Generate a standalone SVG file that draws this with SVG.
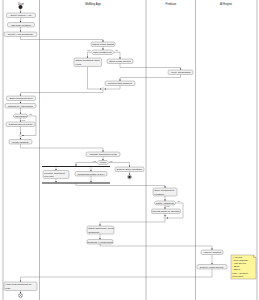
<svg xmlns="http://www.w3.org/2000/svg" width="259" height="300" viewBox="0 0 259 300">
<style>
.lane{stroke:#aaa;stroke-width:0.8;fill:none}
.hd{font-family:"Liberation Sans",Arial,sans-serif;font-size:2.8px;fill:#222;text-anchor:middle}
.box{fill:#F1F1F1;stroke:#555;stroke-width:0.3}
.t{font-family:"Liberation Sans",Arial,sans-serif;font-size:2.5px;fill:#222;text-anchor:middle}
.tl{font-family:"Liberation Sans",Arial,sans-serif;font-size:2.5px;fill:#222}
.lb{font-family:"Liberation Sans",Arial,sans-serif;font-size:2.2px;fill:#222}
.c{fill:none;stroke:#444;stroke-width:0.3;marker-end:url(#ah)}
.bar{fill:#222}
.note{fill:#FFF59A;stroke:#555;stroke-width:0.3}
</style>
<defs>
<marker id="ah" viewBox="0 0 4 4" refX="4" refY="2" markerWidth="1.6" markerHeight="1.6" markerUnits="userSpaceOnUse" orient="auto"><path d="M0 0 L4 2 L0 4 Z" fill="#333"/></marker>
</defs>
<g id="lanes">
<line class="lane" x1="3" y1="0" x2="3" y2="300"/>
<line class="lane" x1="39.5" y1="0" x2="39.5" y2="300"/>
<line class="lane" x1="146" y1="0" x2="146" y2="300"/>
<line class="lane" x1="195.5" y1="0" x2="195.5" y2="300"/>
<line class="lane" x1="257" y1="0" x2="257" y2="300"/>
<text class="hd" x="21" y="4.5">User</text>
<text class="hd" x="93" y="4.5">MeMory App</text>
<text class="hd" x="171" y="4.5">Firebase</text>
<text class="hd" x="226" y="4.5">AI Engine</text>
</g>
<g id="connectors">
<path class="c" d="M20.5 9 V13"/>
<path class="c" d="M20.5 17.5 V22.5"/>
<path class="c" d="M20.5 27 V32"/>
<path class="c" d="M20.5 36.5 V39.5 H103 V42"/>
<path class="c" d="M103 46.5 V50"/>
<path class="c" d="M91 52.25 H87.5 V58"/>
<path class="c" d="M114 52.25 H120 V59"/>
<path class="c" d="M120 63.5 V67.5 H180.5 V70"/>
<path class="c" d="M180.5 74.5 V77.5 H120 V81"/>
<path class="c" d="M87.5 66.5 V89 H101.5"/>
<path class="c" d="M120 85.5 V89 H104.5"/>
<path class="c" d="M103 90.5 V92.5 H20.5 V96"/>
<path class="c" d="M20.5 100.5 V103.5"/>
<path class="c" d="M20.5 108 V114"/>
<path class="c" d="M20.5 118 V122"/>
<path class="c" d="M28 116 H36 V135.5 H22"/>
<path class="c" d="M20.5 126.5 V134"/>
<path class="c" d="M20.5 137 V139.5"/>
<path class="c" d="M20.5 144 V148 H103 V152"/>
<path class="c" d="M103 156.5 V160.5"/>
<path class="c" d="M97 162.5 H76 V166"/>
<path class="c" d="M109 162.5 H129.5 V167"/>
<path class="c" d="M56 167 V170.5"/>
<path class="c" d="M91 167 V171.5"/>
<path class="c" d="M56 178.5 V182.5"/>
<path class="c" d="M91 176 V182.5"/>
<path class="c" d="M129.5 171.5 V175"/>
<path class="c" d="M76 183.5 V185.5 H165 V188"/>
<path class="c" d="M165 196 V201"/>
<path class="c" d="M165 205 V209"/>
<path class="c" d="M176 203 H183 V218 H166.5"/>
<path class="c" d="M165 213.5 V216.5"/>
<path class="c" d="M165 219.5 V222 H100 V226"/>
<path class="c" d="M100 234 V239.5"/>
<path class="c" d="M100 244 V246 H212 V250"/>
<path class="c" d="M212 254.5 V264.5"/>
<path class="c" d="M212 269 V277 H20.5 V282"/>
<path class="c" d="M20.5 290.5 V293.5"/>
</g>
<g id="start"><circle cx="20.5" cy="7" r="2" fill="#222"/></g>
<g id="n1"><rect class="box" x="6.5" y="13" width="29" height="4.5" rx="1.5"/><text class="t" x="21" y="16.1">Open MeMory App</text></g>
<g id="n2"><rect class="box" x="7.5" y="22.5" width="27" height="4.5" rx="1.5"/><text class="t" x="21" y="25.6">Tap Map Location</text></g>
<g id="n3"><rect class="box" x="4" y="32" width="33" height="4.5" rx="1.5"/><text class="t" x="20.5" y="35.1">Select "Add Comment"</text></g>
<g id="n4"><rect class="box" x="91" y="42" width="24" height="4.5" rx="1.5"/><text class="t" x="103" y="45.1">Check Login Status</text></g>
<g id="d1"><path class="box" d="M91 52.25 L93 50 H112 L114 52.25 L112 54.5 H93 Z"/><text class="t" x="102.5" y="53.1">User Logged In?</text><text class="lb" x="87" y="51.2">yes</text><text class="lb" x="115.5" y="51.2">no</text></g>
<g id="n5"><rect class="box" x="74" y="58" width="27.5" height="8.5" rx="1.5"/><text class="tl" x="75.5" y="61.2">Show Comment Input</text><text class="tl" x="75.5" y="64.7">Form</text></g>
<g id="n6"><rect class="box" x="107" y="59" width="26" height="4.5" rx="1.5"/><text class="t" x="120" y="62.1">Show Login Screen</text></g>
<g id="n7"><rect class="box" x="168" y="70" width="25" height="4.5" rx="1.5"/><text class="t" x="180.5" y="73.1">Verify Credentials</text></g>
<g id="n8"><rect class="box" x="105" y="81" width="30" height="4.5" rx="1.5"/><text class="t" x="120" y="84.1">Return Login Session</text></g>
<g id="m1"><path class="box" d="M103 87.5 L104.5 89 L103 90.5 L101.5 89 Z"/></g>
<g id="n9"><rect class="box" x="6.5" y="96" width="29" height="4.5" rx="1.5"/><text class="t" x="21" y="99.1">Enter Comment Text</text></g>
<g id="n10"><rect class="box" x="5" y="103.5" width="31" height="4.5" rx="1.5"/><text class="t" x="20.5" y="106.6">Choose to Add Photo?</text></g>
<g id="d2"><path class="box" d="M13 116 L15 114 H26 L28 116 L26 118 H15 Z"/><text class="t" x="20.5" y="116.9">Add Photo?</text><text class="lb" x="29.5" y="115.2">no</text><text class="lb" x="21.5" y="120.6">yes</text></g>
<g id="n11"><rect class="box" x="6" y="122" width="29" height="4.5" rx="1.5"/><text class="t" x="20.5" y="125.1">Capture/Select Photo</text></g>
<g id="m2"><path class="box" d="M20.5 134 L22 135.5 L20.5 137 L19 135.5 Z"/></g>
<g id="n12"><rect class="box" x="9" y="139.5" width="23" height="4.5" rx="1.5"/><text class="t" x="20.5" y="142.6">Press "Submit"</text></g>
<g id="n13"><rect class="box" x="86" y="152" width="34" height="4.5" rx="1.5"/><text class="t" x="103" y="155.1">Validate Comment Fields</text></g>
<g id="d3"><path class="box" d="M97 162.5 L99 160.5 H107 L109 162.5 L107 164.5 H99 Z"/><text class="t" x="103" y="163.3">Valid?</text><text class="lb" x="92.5" y="161.7">yes</text><text class="lb" x="110" y="161.7">no</text></g>
<g id="fork1"><rect class="bar" x="42" y="166" width="68" height="1"/></g>
<g id="n14"><rect class="box" x="43" y="170.5" width="26" height="8" rx="1.5"/><text class="tl" x="44.3" y="173.6">Prepare Comment</text><text class="tl" x="44.3" y="177">Payload</text></g>
<g id="n15"><rect class="box" x="75" y="171.5" width="32" height="4.5" rx="1.5"/><text class="t" x="91" y="174.6">Compress Photo (if any)</text></g>
<g id="fork2"><rect class="bar" x="42" y="182.5" width="68" height="1"/></g>
<g id="n16"><rect class="box" x="115" y="167" width="29" height="4.5" rx="1.5"/><text class="t" x="129.5" y="170.1">Display Error Message</text></g>
<g id="stop1"><circle cx="129.5" cy="177" r="2" fill="none" stroke="#222" stroke-width="0.35"/><circle cx="129.5" cy="177" r="1.3" fill="#222"/></g>
<g id="n17"><rect class="box" x="153" y="188" width="24" height="8" rx="1.5"/><text class="tl" x="154.3" y="191.1">Save Comment to</text><text class="tl" x="154.3" y="194.5">Firestore</text></g>
<g id="d4"><path class="box" d="M154 203 L156 201 H174 L176 203 L174 205 H156 Z"/><text class="t" x="165" y="203.9">Photo Attached?</text><text class="lb" x="177.5" y="202">no</text><text class="lb" x="166" y="207.3">yes</text></g>
<g id="n18"><rect class="box" x="151.5" y="209" width="29" height="4.5" rx="1.5"/><text class="t" x="166" y="212.1">Upload Photo to Storage</text></g>
<g id="m3"><path class="box" d="M165 216.5 L166.5 218 L165 219.5 L163.5 218 Z"/></g>
<g id="n19"><rect class="box" x="87" y="226" width="27" height="8" rx="1.5"/><text class="tl" x="88.3" y="229.1">Show Temporary Local</text><text class="tl" x="88.3" y="232.5">Comment</text></g>
<g id="n20"><rect class="box" x="87" y="239.5" width="26" height="4.5" rx="1.5"/><text class="t" x="100" y="242.6">Request AI Moderation</text></g>
<g id="n21"><rect class="box" x="201" y="250" width="22" height="4.5" rx="1.5"/><text class="t" x="212" y="253.1">Analyze Content</text></g>
<g id="n22"><rect class="box" x="197" y="264.5" width="30" height="4.5" rx="1.5"/><text class="t" x="212" y="267.6">Detect Abuse/Toxicity</text></g>
<g id="note1"><path class="note" d="M231 255 H253.5 L256 257.5 V279 H231 Z"/><path d="M253.5 255 V257.5 H256" fill="none" stroke="#555" stroke-width="0.3"/>
<text class="lb" x="232.3" y="258.3">AI checks:</text>
<text class="lb" x="232.3" y="261.3">- Toxic language</text>
<text class="lb" x="232.3" y="264.3">- Hate speech</text>
<text class="lb" x="232.3" y="267.3">- Spam</text>
<text class="lb" x="232.3" y="270.3">- NSFW</text>
<text class="lb" x="232.3" y="274">Flag -&gt; sends to</text>
<text class="lb" x="232.3" y="277">moderation</text></g>
<g id="n23"><rect class="box" x="4" y="282" width="33" height="8.5" rx="1.5"/><text class="tl" x="5.3" y="285.2">View Post Comment on</text><text class="tl" x="5.3" y="288.7">Map</text></g>
<g id="end"><circle cx="20.5" cy="295.5" r="2" fill="#fff" stroke="#222" stroke-width="0.35"/><path d="M19.1 294.1 L21.9 296.9 M21.9 294.1 L19.1 296.9" stroke="#222" stroke-width="0.35"/></g>
</svg>
